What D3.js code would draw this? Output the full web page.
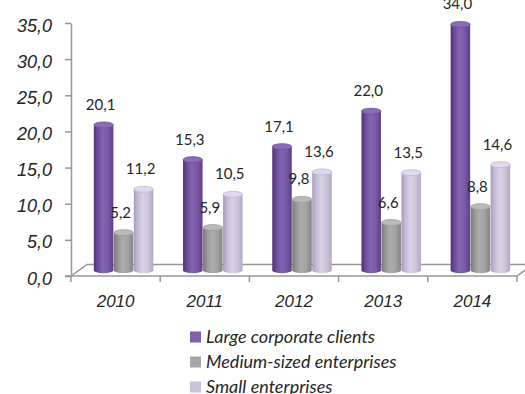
<!DOCTYPE html>
<html>
<head>
<meta charset="utf-8">
<script src="https://cdn.jsdelivr.net/npm/d3@7"></script>
<style>
  body { margin: 0; background: #fff; }
  svg { display: block; font-family: Lato, "Open Sans", sans-serif; }
</style>
</head>
<body>
<svg id="chart" width="525" height="394"></svg>
<script>
// Chart data
const years = ["2010", "2011", "2012", "2013", "2014"];
const seriesNames = ["Large corporate clients", "Medium-sized enterprises", "Small enterprises"];
const largeClients = [20.1, 15.3, 17.1, 22.0, 34.0];
const mediumEnterprises = [5.2, 5.9, 9.8, 6.6, 8.8];
const smallEnterprises = [11.2, 10.5, 13.6, 13.5, 14.6];
const yTicks = [0, 5, 10, 15, 20, 25, 30, 35];

const seriesValues = [largeClients, mediumEnterprises, smallEnterprises];

// Cylinder shading per series: body gradient stops, top cap, legend swatch
const palette = [
  { stops: ["#4e3177", "#6a4997", "#8464b0", "#7a5aa6", "#5b3e88"], cap: "#8a6cb6", capEdge: "#6c4d99", swatch: "#7f5fa8" },
  { stops: ["#767676", "#949494", "#adadad", "#a2a2a2", "#848484"], cap: "#bababa", capEdge: "#9a9a9a", swatch: "#a6a6a6" },
  { stops: ["#a698bb", "#c4b8d5", "#d9d0e6", "#cfc5de", "#b3a7c6"], cap: "#e0d8ec", capEdge: "#c2b6d4", swatch: "#ccc1da" }
];

const fmt = v => v.toFixed(1).replace(".", ",");

const svg = d3.select("#chart");
const defs = svg.append("defs");

palette.forEach((p, i) => {
  const g = defs.append("linearGradient")
    .attr("id", "cyl" + i)
    .attr("x1", "0").attr("x2", "1").attr("y1", "0").attr("y2", "0");
  const offs = [0, 0.18, 0.45, 0.72, 1];
  p.stops.forEach((c, k) => g.append("stop").attr("offset", offs[k]).attr("stop-color", c));
});

// Front plane of the plot and the depth of the floor
const left = 71, right = 517;
const depthX = 16, depthY = -11.5;

const x = d3.scaleBand().domain(years).range([left, right]).paddingInner(0).paddingOuter(0);
const inner = d3.scaleBand().domain(seriesNames).range([-30, 30]);
const y = d3.scaleLinear().domain([0, 35]).range([276, 23]);

const axisColor = "#979797";

// Floor outline
const floor = svg.append("g").attr("fill", "none").attr("stroke", axisColor).attr("stroke-width", 1.5);
floor.append("path")
  .attr("d", `M${left},${y(0)} L${left + depthX},${y(0) + depthY} L${right + depthX},${y(0) + depthY} L${right},${y(0)}`);

// Y axis
const yAxis = svg.append("g")
  .attr("transform", `translate(${left},0)`)
  .call(d3.axisLeft(y).tickValues(yTicks).tickFormat(fmt).tickSizeInner(6).tickSizeOuter(0).tickPadding(13));
yAxis.select(".domain").attr("stroke", axisColor).attr("stroke-width", 1.5);
yAxis.selectAll(".tick line").attr("stroke", axisColor).attr("stroke-width", 1.5);
yAxis.selectAll(".tick text")
  .attr("dy", "0.45em")
  .attr("fill", "#262626")
  .style("font-size", "18px")
  .style("font-style", "italic");

// X axis line with ticks at category boundaries
const xLine = svg.append("g").attr("stroke", axisColor).attr("stroke-width", 1.5);
xLine.append("line").attr("x1", left - 6).attr("x2", right).attr("y1", y(0)).attr("y2", y(0));
const bounds = years.map(d => x(d)).concat([right]);
xLine.selectAll("line.tk").data(bounds).join("line")
  .attr("class", "tk")
  .attr("x1", d => d).attr("x2", d => d)
  .attr("y1", y(0)).attr("y2", y(0) + 6);

// X labels
const xAxis = svg.append("g")
  .attr("transform", `translate(0,${y(0)})`)
  .call(d3.axisBottom(x).tickSize(0).tickPadding(19));
xAxis.select(".domain").remove();
xAxis.selectAll(".tick text")
  .attr("fill", "#262626")
  .style("font-size", "17px")
  .style("font-style", "italic");

// Cylinders
const rx = 9.75, ry = 3;
const baseY = y(0) + depthY / 2;
const bars = [];
seriesValues.forEach((vals, si) => {
  vals.forEach((v, yi) => {
    bars.push({ si, year: years[yi], value: v });
  });
});

const barG = svg.append("g");
const cyl = barG.selectAll("g.bar").data(bars).join("g").attr("class", "bar")
  .attr("transform", d => `translate(${x(d.year) + x.bandwidth() / 2 + depthX / 2 + inner(seriesNames[d.si]) + inner.bandwidth() / 2},0)`);

cyl.append("path")
  .attr("fill", d => `url(#cyl${d.si})`)
  .attr("d", d => {
    const top = y(d.value) + depthY / 2;
    return `M${-rx},${top} L${-rx},${baseY} A${rx},${ry} 0 0 0 ${rx},${baseY} L${rx},${top} Z`;
  });
cyl.append("ellipse")
  .attr("cx", 0)
  .attr("cy", d => y(d.value) + depthY / 2)
  .attr("rx", rx).attr("ry", ry)
  .attr("fill", d => palette[d.si].cap)
  .attr("stroke", d => palette[d.si].capEdge)
  .attr("stroke-width", 0.8);

// Value labels
cyl.append("text")
  .attr("x", -3)
  .attr("y", d => y(d.value) + depthY / 2 - 15)
  .attr("text-anchor", "middle")
  .attr("fill", "#262626")
  .style("font-size", "15px")
  .text(d => fmt(d.value));

// Legend
const legend = svg.append("g").attr("transform", "translate(190,337)");
const items = legend.selectAll("g").data(seriesNames).join("g")
  .attr("transform", (d, i) => `translate(0,${i * 25})`);
items.append("rect")
  .attr("x", 0).attr("y", -5.5).attr("width", 11).attr("height", 11)
  .attr("fill", (d, i) => palette[i].swatch);
items.append("text")
  .attr("x", 16).attr("y", 6)
  .attr("fill", "#262626")
  .style("font-size", "18px")
  .style("font-style", "italic")
  .text(d => d);
</script>
</body>
</html>
